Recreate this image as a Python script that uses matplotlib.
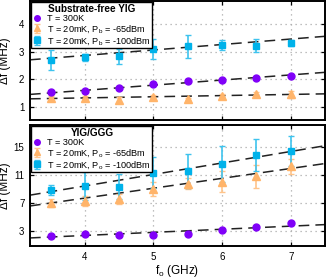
import matplotlib
matplotlib.use("Agg")
import matplotlib.pyplot as plt
import numpy as np

plt.rcParams["font.family"] = ["Liberation Sans", "DejaVu Sans"]
plt.rcParams["mathtext.fontset"] = "custom"
plt.rcParams["mathtext.rm"] = "Liberation Sans"
plt.rcParams["mathtext.it"] = "Liberation Sans"

# ── data ────────────────────────────────────────────────────
freq = [3.5, 4.0, 4.5, 5.0, 5.5, 6.0, 6.5, 7.0]

# Substrate-free YIG
top_300k = [1.53, 1.58, 1.69, 1.83, 1.94, 1.99, 2.05, 2.11]
top_65 = [1.32, 1.33, 1.24, 1.36, 1.28, 1.40, 1.45, 1.45]
top_65_err = [0.07, 0.05, 0.10, 0.08, 0.05, 0.05, 0.07, 0.12]
top_100 = [2.70, 2.79, 2.84, 3.09, 3.20, 3.24, 3.22, 3.31]
top_100_err = [0.35, 0.14, 0.27, 0.35, 0.42, 0.18, 0.23, 0.10]

# YIG/GGG
bot_300k = [2.3, 2.6, 2.5, 2.5, 2.65, 3.15, 3.55, 4.1]
bot_65 = [7.0, 7.25, 7.6, 9.0, 9.75, 10.0, 10.8, 12.2]
bot_65_err = [0.5, 0.7, 0.7, 1.0, 0.8, 1.5, 1.6, 1.1]
bot_100 = [8.8, 9.4, 9.3, 11.3, 11.55, 12.55, 13.8, 14.4]
bot_100_err = [0.7, 2.0, 1.8, 2.2, 2.4, 2.6, 2.3, 2.1]

# linear fits: (slope, intercept) for 300K, -65dBm, -100dBm
top_fits = [(0.186, 0.855), (0.042, 1.156), (0.198, 2.07)]
bot_fits = [(0.44, 0.64), (1.40, 2.10), (1.63, 2.90)]

top_yticks = [1, 2, 3, 4]
bot_yticks = [3, 7, 11, 15]
xticks = [4, 5, 6, 7]

PURPLE = "#8000F8"
ORANGE = "#FFB46A"
BLUE = "#00B2EA"


def draw_panel(ax, s300, s65, e65, s100, e100, fits, title, sub):
    fx = np.array([3.2, 7.5])
    for slope, icpt in fits:
        ax.plot(fx, slope * fx + icpt, color="#222222", lw=1.1,
                dashes=(7, 4), zorder=2)
    ax.plot(freq, s300, "o", color=PURPLE, ms=5, mec=PURPLE,
            label="T = 300K", zorder=4)
    ax.errorbar(freq, s65, yerr=e65, fmt="^", color=ORANGE, ms=5.5,
                ecolor="#FFC48A", elinewidth=1.2, capsize=2.5,
                label="T = 20mK, P$_{%s}$ = -65dBm" % sub, zorder=3)
    ax.errorbar(freq, s100, yerr=e100, fmt="s", color=BLUE, ms=5,
                ecolor="#3EC3EE", elinewidth=1.2, capsize=2.5,
                label="T = 20mK, P$_{%s}$ = -100dBm" % sub, zorder=3)
    ax.set_xlim(3.2, 7.5)
    ax.set_xticks(xticks)
    ax.grid(True, color="#AAAAAA", linestyle=(0, (1, 3)), lw=0.9)
    ax.tick_params(direction="in", top=True, right=True, length=3,
                   width=0.9, labelsize=7, pad=4)
    for sp in ax.spines.values():
        sp.set_linewidth(1.4)
    ax.set_ylabel("Δf (MHz)", fontsize=8.5)
    ax.yaxis.set_label_coords(-0.066, 0.5)
    leg = ax.legend(loc="upper left", bbox_to_anchor=(0.0, 1.0),
                    fontsize=6.6, title=title, handlelength=1.0,
                    handletextpad=0.6, borderpad=0.15, labelspacing=0.0,
                    fancybox=False, edgecolor="black", framealpha=1,
                    borderaxespad=0.15, markerscale=0.8)
    leg.get_title().set_fontweight("bold")
    leg.get_title().set_fontsize(7.2)
    leg.get_frame().set_linewidth(1.0)


fig = plt.figure(figsize=(3.26, 2.78), dpi=100)
ax1 = fig.add_axes([0.092, 0.568, 0.905, 0.428])
ax2 = fig.add_axes([0.092, 0.115, 0.905, 0.435])

draw_panel(ax1, top_300k, top_65, top_65_err, top_100, top_100_err,
           top_fits, "Substrate-free YIG", "b")
ax1.set_ylim(0.52, 4.83)
ax1.set_yticks(top_yticks)
ax1.tick_params(labelbottom=False)

draw_panel(ax2, bot_300k, bot_65, bot_65_err, bot_100, bot_100_err,
           bot_fits, "YIG/GGG", "o")
ax2.set_ylim(0.9, 18.05)
ax2.set_yticks(bot_yticks)
ax2.set_xlabel("f$_o$ (GHz)", fontsize=8.5, labelpad=1)

fig.savefig("out.png", dpi=100)
